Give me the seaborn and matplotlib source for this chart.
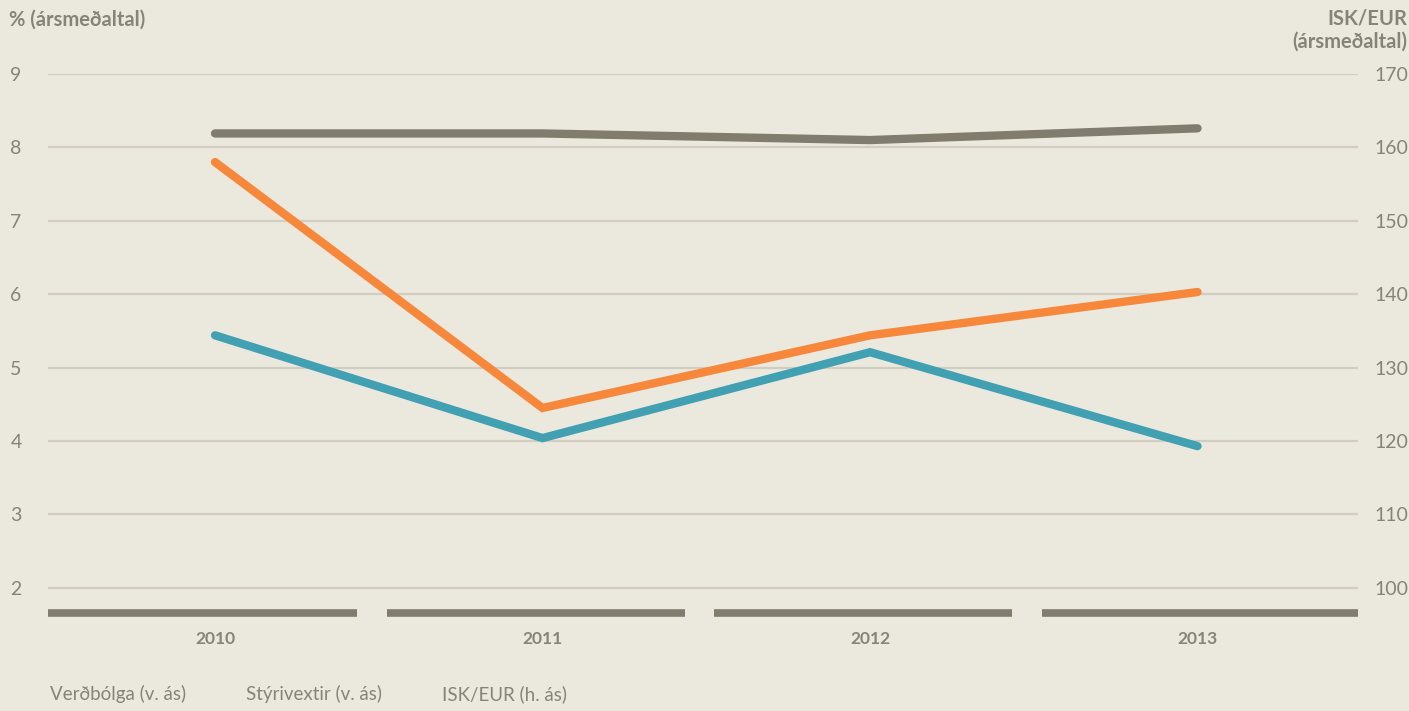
import matplotlib
matplotlib.use("Agg")
import matplotlib.pyplot as plt
import numpy as np
import pandas as pd
import seaborn as sns

# ------------------------------

BG = "#ebe8dd"
GRID = "#d1cdc1"
TEXT_GREY = "#86847a"
DARK_GREY = "#807d6e"
TEAL = "#42a0b3"
ORANGE = "#f7873b"

DPI = 100
FIGSIZE = (1409 / DPI, 711 / DPI)

# ------------------------------

years = [2010, 2011, 2012, 2013]
inflation = [5.44, 4.04, 5.21, 3.93]        # Verðbólga (v. ás)
policy_rate = [7.80, 4.45, 5.44, 6.03]      # Stýrivextir (v. ás)
isk_eur = [161.9, 161.9, 161.0, 162.6]      # ISK/EUR (h. ás)

left_ticks = [2, 3, 4, 5, 6, 7, 8, 9]
right_ticks = [100, 110, 120, 130, 140, 150, 160, 170]
series_labels = ["Verðbólga (v. ás)", "Stýrivextir (v. ás)", "ISK/EUR (h. ás)"]
left_title = "% (ársmeðaltal)"
right_title = "ISK/EUR\n(ársmeðaltal)"

# ------------------------------

sns.set_theme(style="white")
plt.rcParams["font.family"] = ["Lato", "DejaVu Sans"]

left_df = pd.DataFrame(
    {"year": years * 2,
     "value": inflation + policy_rate,
     "series": [series_labels[0]] * 4 + [series_labels[1]] * 4}
)
right_df = pd.DataFrame({"year": years, "value": isk_eur})

fig = plt.figure(figsize=FIGSIZE, dpi=DPI, facecolor=BG)
ax = fig.add_axes([48 / 1409, 98 / 711, 1310 / 1409, 539 / 711])
ax.set_facecolor(BG)

y_lo, y_hi = 1.657, 9.0
ax.set_ylim(y_lo, y_hi)
ax.set_xlim(years[0] - 0.51, years[-1] + 0.49)

for t in left_ticks:
    ax.axhline(t, color=GRID, lw=1.6, zorder=0)

sns.lineplot(
    data=left_df, x="year", y="value", hue="series",
    palette=[TEAL, ORANGE], linewidth=6, ax=ax, legend=False,
    solid_capstyle="round", solid_joinstyle="miter", zorder=3,
)

ax2 = ax.twinx()
ax2.set_ylim(100 + (y_lo - 2) * 10, 100 + (y_hi - 2) * 10)
sns.lineplot(
    data=right_df, x="year", y="value", color=DARK_GREY, linewidth=6,
    ax=ax2, solid_capstyle="round", zorder=3,
)

# broken bottom band under each year
gap = 0.045
lo_edge, hi_edge = ax.get_xlim()
for i, yr in enumerate(years):
    x0 = lo_edge if i == 0 else yr - 0.52 + gap
    x1 = hi_edge if i == len(years) - 1 else yr + 0.48 - gap
    ax.plot([x0, x1], [y_lo, y_lo], color=DARK_GREY, lw=5.5,
            solid_capstyle="butt", clip_on=False, zorder=4)

for a in (ax, ax2):
    for s in a.spines.values():
        s.set_visible(False)
    a.set_xlabel("")
    a.set_ylabel("")

ax.set_yticks(left_ticks)
ax.set_yticklabels([str(t) for t in left_ticks])
ax.tick_params(axis="y", length=0, pad=19, labelsize=14, labelcolor=TEXT_GREY)
ax2.set_yticks(right_ticks)
ax2.set_yticklabels([str(t) for t in right_ticks])
ax2.tick_params(axis="y", length=0, pad=12, labelsize=14, labelcolor=TEXT_GREY)

ax.set_xticks(years)
ax.set_xticklabels([str(y) for y in years], fontweight="bold")
ax.tick_params(axis="x", length=0, pad=13, labelsize=12.5, labelcolor=TEXT_GREY)
ax2.tick_params(axis="x", length=0)

fig.text(9 / 1409, 1 - 20 / 711, left_title, fontsize=14.5, fontweight="bold",
         color=TEXT_GREY, ha="left", va="center")
fig.text(1407 / 1409, 1 - 30 / 711, right_title, fontsize=14.5, fontweight="bold",
         color=TEXT_GREY, ha="right", va="center", multialignment="right",
         linespacing=1.15)

handles = [plt.Line2D([], [], color=c) for c in (TEAL, ORANGE, DARK_GREY)]
leg = fig.legend(
    handles, series_labels, ncol=3, loc="center left",
    bbox_to_anchor=(50 / 1409, 1 - 694 / 711), frameon=False,
    handlelength=0, handletextpad=0, columnspacing=3.2, borderpad=0,
    borderaxespad=0, fontsize=13.5, labelcolor=TEXT_GREY,
)
for h in leg.legend_handles:
    h.set_visible(False)

fig.savefig("out.png", dpi=DPI, facecolor=BG)
